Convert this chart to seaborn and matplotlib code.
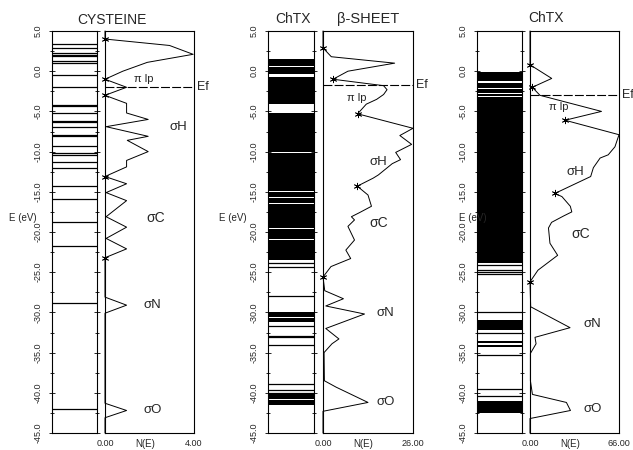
import numpy as np
import pandas as pd
import matplotlib
matplotlib.use("Agg")
import matplotlib.pyplot as plt
from matplotlib.ticker import MultipleLocator, FixedLocator
import seaborn as sns

# ---------------- data ----------------
# CYSTEINE
cys_levels = [3.4, 2.9, 2.3, 2.05, 1.85, 1.3, 1.0, -0.45, -1.95, -4.2, -4.35, -5.2,
              -6.2, -6.35, -7.0, -7.9, -8.05, -9.3, -10.2, -10.45, -11.3, -12.0,
              -14.3, -15.9, -18.7, -21.8, -28.8, -42.0]
cys_E = [5.0, 4.0, 3.2, 2.1, 1.1, 0.0, -1.0, -2.0, -3.0, -4.0, -5.2, -6.0, -6.9, -8.1,
         -8.6, -10.0, -11.1, -11.9, -13.1, -14.0, -15.1, -16.1, -18.1, -19.4, -20.8,
         -22.1, -23.2, -28.1, -29.1, -30.1, -41.3, -42.2, -43.1, -45.0]
cys_N = [0.0, 0.0, 2.9, 3.96, 1.9, 0.8, 0.0, 0.97, 0.0, 0.97, 0.97, 1.94, 0.05, 1.94,
         1.0, 1.94, 0.97, 0.97, 0.0, 0.97, 0.05, 0.97, 0.05, 0.97, 0.05,
         0.97, 0.0, 0.0, 0.97, 0.0, 0.0, 0.97, 0.0, 0.0]
cys_star_E = [4.0, -1.0, -3.0, -13.1, -23.2]
cys_star_N = [0.0, 0.0, 0.0, 0.0, 0.0]
cys_ef = -2.0
cys_max = 4.0

# ChTX beta-sheet
beta_bands = [(1.55, 0.95), (0.88, 0.62), (0.55, 0.05), (-0.02, -0.3), (-0.75, -4.05),
              (-5.25, -10.0), (-10.12, -14.95), (-15.07, -15.6), (-15.72, -16.35),
              (-16.47, -19.5), (-19.62, -20.9), (-21.02, -23.5), (-30.0, -30.6),
              (-30.7, -31.2), (-40.15, -40.75), (-40.85, -41.5)]
beta_levels = [-23.8, -24.4, -27.9, -31.7, -32.9, -33.1, -34.0, -38.9, -39.7, -40.0]
beta_E = [5.0, 2.9, 1.8, 1.0, 0.0, -1.0, -1.8, -2.3, -2.9, -3.5, -4.1, -5.3, -7.1,
          -8.0, -9.1, -10.1, -11.0, -11.5, -12.9, -13.3, -14.3, -15.4, -16.8,
          -17.6, -18.1, -18.5, -19.3, -21.0, -22.25, -23.3, -24.3, -25.6, -27.3,
          -28.3, -29.2, -30.2, -32.0, -33.3, -33.9, -35.0, -38.5, -39.3, -41.2,
          -42.3, -45.0]
beta_N = [0.0, 0.0, 2.4, 20.7, 7.2, 2.9, 17.5, 18.5, 17.5, 15.5, 12.5, 10.0, 26.0,
          22.2, 25.6, 21.0, 22.4, 20.0, 16.0, 14.5, 9.9, 13.0, 14.0,
          10.5, 8.2, 9.1, 7.2, 9.1, 6.6, 8.0, 2.3, 0.0, 0.5,
          5.9, 0.8, 12.0, 0.8, 4.6, 2.6, 0.3, 0.4, 3.8, 13.0,
          0.0, 0.0]
beta_star_E = [2.9, -1.0, -5.3, -14.3, -25.6]
beta_star_N = [0.0, 2.9, 10.0, 9.9, 0.0]
beta_ef = -1.75
beta_max = 26.0

# ChTX
chtx_bands = [(-0.1, -1.2), (-1.5, -2.05), (-2.2, -2.65), (-2.8, -3.05),
              (-3.17, -23.9), (-31.0, -32.25), (-33.6, -33.85), (-34.0, -34.3),
              (-41.0, -42.5)]
chtx_levels = [-24.1, -24.7, -24.95, -25.2, -30.0, -32.6, -35.25, -39.5, -40.4]
chtx_E = [5.0, 0.8, -0.9, -2.0, -3.0, -5.0, -6.1, -7.9, -9.4, -10.4, -10.8, -12.0,
          -13.1, -15.2, -15.6, -16.8, -17.5, -18.0, -18.8, -19.5, -21.4, -22.9,
          -24.75, -26.2, -29.3, -31.9, -33.1, -33.9, -35.1, -38.5, -40.2, -41.2,
          -42.2, -43.2, -45.0]
chtx_N = [0.0, 0.0, 16.1, 1.7, 7.4, 53.0, 26.0, 66.0, 63.0, 58.0, 52.0, 47.0,
          45.0, 18.5, 23.7, 29.9, 31.0, 25.0, 16.0, 13.7, 14.8, 20.5,
          5.9, 0.0, 0.5, 29.7, 3.7, 4.5, 0.3, 0.3, 1.8, 27.0,
          30.0, 0.0, 0.0]
chtx_star_E = [0.8, -2.0, -6.1, -15.2, -26.2]
chtx_star_N = [0.0, 1.7, 26.0, 18.5, 0.0]
chtx_ef = -3.0
chtx_max = 66.0

y_ticks = [5, 0, -5, -10, -15, -20, -25, -30, -35, -40, -45]

# ---------------- style ----------------
sns.set_theme(style="white")
plt.rcParams["font.family"] = ["Liberation Sans", "DejaVu Sans"]
plt.rcParams["axes.unicode_minus"] = False

fig = plt.figure(figsize=(6.33, 4.5), dpi=100)
W, H = 633.0, 450.0


def box(x0, x1, yt, yb):
    return [x0 / W, 1 - yb / H, (x1 - x0) / W, (yb - yt) / H]


def level_axes(rect, bands, levels):
    ax = fig.add_axes(rect)
    for lo, hi in bands:
        ax.axhspan(hi, lo, xmin=0, xmax=1, color="black", lw=0)
    ax.hlines(levels, 0, 1, colors="black", lw=0.9)
    ax.set_xlim(0, 1)
    ax.set_ylim(-45, 5)
    ax.set_xticks([])
    ax.yaxis.set_major_locator(FixedLocator(y_ticks))
    ax.set_yticklabels([f"{v:.1f}" for v in y_ticks])
    ax.yaxis.set_minor_locator(MultipleLocator(2.5))
    ax.tick_params(axis="y", which="both", left=True, right=True, direction="inout",
                   labelsize=6.5, labelrotation=90, pad=4, color="black", width=0.6)
    ax.tick_params(axis="y", which="major", length=5)
    ax.tick_params(axis="y", which="minor", length=3)
    for lab in ax.get_yticklabels():
        lab.set_va("center")
    for s in ax.spines.values():
        s.set_color("black")
        s.set_linewidth(0.8)
    ax.set_facecolor("white")
    return ax


def dos_axes(rect, E, N, sE, sN, ef, nmax, labels):
    ax = fig.add_axes(rect)
    df = pd.DataFrame({"E": E, "N": N})
    sns.lineplot(data=df, x="N", y="E", sort=False, estimator=None, color="black",
                 lw=0.7, ax=ax, clip_on=False)
    sns.scatterplot(x=sN, y=sE, marker=(6, 2, 0), color="black", s=22,
                    linewidth=0.6, ax=ax, clip_on=False, zorder=5)
    ax.axhline(ef, color="black", lw=0.8, ls=(0, (8, 2)))
    ax.text(1.03, ef, "Ef", transform=ax.get_yaxis_transform(), ha="left",
            va="center", fontsize=9)
    for txt, xn, ye, fs in labels:
        ax.text(xn, ye, txt, ha="left", va="center", fontsize=fs)
    ax.set_xlim(0, nmax)
    ax.set_ylim(-45, 5)
    ax.set_yticks([])
    ax.set_xticks([0, nmax])
    ax.set_xticklabels([f"{0:.2f}", f"{nmax:.2f}"])
    ax.tick_params(axis="x", length=0, labelsize=6.5, pad=4)
    ax.set_xlabel("")
    ax.set_ylabel("")
    ax.text(0.45, -0.027, "N(E)", transform=ax.transAxes, ha="center", va="center",
            fontsize=7)
    for s in ax.spines.values():
        s.set_color("black")
        s.set_linewidth(0.8)
    return ax


# panel 1
a1 = level_axes(box(52, 97, 31, 433), [], cys_levels)
d1 = dos_axes(box(105, 194, 31, 433), cys_E, cys_N, cys_star_E, cys_star_N, cys_ef,
              cys_max,
              [("π lp", 1.3, -1.0, 8), ("σH", 2.9, -7.0, 9.5), ("σC", 1.85, -18.2, 10),
               ("σN", 1.75, -29.1, 9.5), ("σO", 1.75, -42.2, 9.5)])
# panel 2
a2 = level_axes(box(268, 314, 31, 433), beta_bands, beta_levels)
d2 = dos_axes(box(323, 413, 31, 433), beta_E, beta_N, beta_star_E, beta_star_N,
              beta_ef, beta_max,
              [("π lp", 7.0, -3.3, 8), ("σH", 13.5, -11.3, 9.5), ("σC", 13.5, -18.9, 10),
               ("σN", 15.5, -30.1, 9.5), ("σO", 15.5, -41.2, 9.5)])
# panel 3
a3 = level_axes(box(477, 522, 31, 433), chtx_bands, chtx_levels)
d3 = dos_axes(box(530, 619, 31, 433), chtx_E, chtx_N, chtx_star_E, chtx_star_N,
              chtx_ef, chtx_max,
              [("π lp", 14.0, -4.5, 8), ("σH", 27.0, -12.5, 9.5), ("σC", 31.0, -20.2, 10),
               ("σN", 40.0, -31.4, 9.5), ("σO", 40.0, -42.0, 9.5)])

# titles
fig.text(112 / W, 1 - 20 / H, "CYSTEINE", ha="center", va="center", fontsize=10)
fig.text(293 / W, 1 - 19 / H, "ChTX", ha="center", va="center", fontsize=10)
fig.text(368 / W, 1 - 19 / H, "β-SHEET", ha="center", va="center", fontsize=10.5)
fig.text(546 / W, 1 - 18 / H, "ChTX", ha="center", va="center", fontsize=10)

# E (eV) labels
for xr in (37, 247, 487):
    fig.text(xr / W, 1 - 218 / H, "E (eV)", ha="right", va="center", fontsize=7)

fig.savefig("out.png", dpi=100, facecolor="white")
